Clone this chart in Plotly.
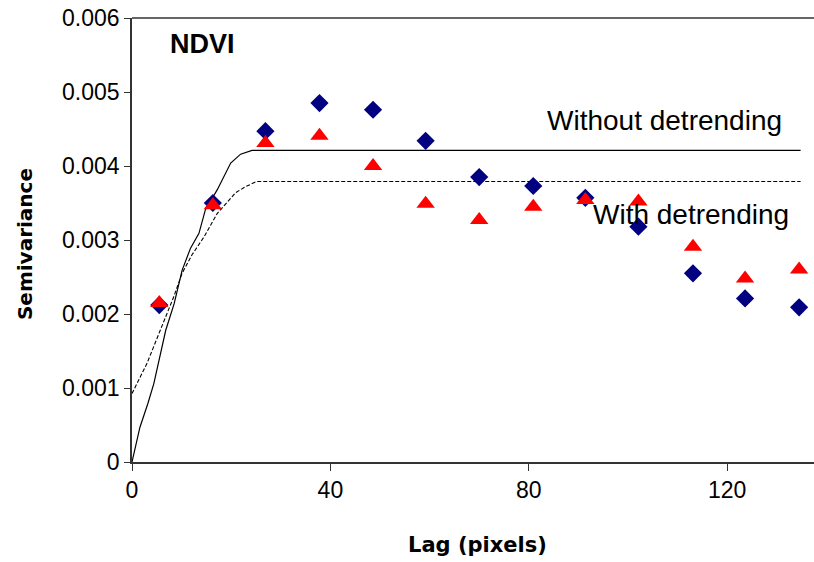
import plotly.graph_objects as go

# Experimental semivariogram of NDVI (lag in pixels)
lag = [5.5, 16.3, 26.9, 37.8, 48.6, 59.2, 70.0, 80.9, 91.4, 102.1, 113.1, 123.6, 134.5]
gamma_raw = [0.00212, 0.00350, 0.00447, 0.00485, 0.00476, 0.00434, 0.00385,
             0.00373, 0.00357, 0.00318, 0.00255, 0.00221, 0.00209]
gamma_detrended = [0.00215, 0.00347, 0.00431, 0.00441, 0.00400, 0.00349, 0.00327,
                   0.00345, 0.00354, 0.00352, 0.00291, 0.00248, 0.00260]

# Fitted model curves
model_raw_lag = [0, 1.6, 3.2, 4.4, 6.8, 8.5, 10.1, 11.8, 13.5, 14.8, 17.2, 19.9, 21.9, 24.2, 134.8]
model_raw_val = [0, 0.00047, 0.00079, 0.00106, 0.00178, 0.00214, 0.00259, 0.00289,
                 0.00309, 0.00341, 0.00368, 0.00404, 0.00416, 0.00421, 0.00421]
model_det_lag = [0, 3.0, 5.7, 8.4, 10.1, 12.1, 14.5, 17.2, 20.9, 22.9, 25.1, 134.8]
model_det_val = [0.000925, 0.00133, 0.00178, 0.00223, 0.00255, 0.00280, 0.00304,
                 0.00336, 0.00364, 0.00372, 0.00379, 0.00379]

y_ticks = [0, 0.001, 0.002, 0.003, 0.004, 0.005, 0.006]
y_tick_text = ["0", "0.001", "0.002", "0.003", "0.004", "0.005", "0.006"]
x_ticks = [0, 40, 80, 120]

FONT = "Liberation Sans, Arial, sans-serif"

fig = go.Figure()

fig.add_trace(go.Scatter(x=model_raw_lag, y=model_raw_val, mode="lines",
                         line=dict(color="black", width=1.2), showlegend=False))
fig.add_trace(go.Scatter(x=model_det_lag, y=model_det_val, mode="lines",
                         line=dict(color="black", width=1.1, dash="4px,2px"),
                         showlegend=False))
fig.add_trace(go.Scatter(x=lag, y=gamma_raw, mode="markers",
                         marker=dict(symbol="diamond", size=14, color="#000080",
                                     line=dict(width=0)),
                         showlegend=False))
fig.add_trace(go.Scatter(x=lag, y=gamma_detrended, mode="markers",
                         marker=dict(symbol="triangle-up", size=16, color="#ff0000",
                                     line=dict(width=0)),
                         showlegend=False))

axis_common = dict(showgrid=False, zeroline=False, showline=True,
                   linecolor="#333333", linewidth=1.5, ticks="outside",
                   tickcolor="#333333", tickwidth=1.2,
                   tickfont=dict(family=FONT, size=23, color="black"))

fig.update_xaxes(range=[0, 137.5], tickvals=x_ticks, ticklen=7, **axis_common)
fig.update_yaxes(range=[0, 0.006], tickvals=y_ticks, ticktext=y_tick_text,
                 ticklen=6, **axis_common)

# top frame edge
fig.add_shape(type="line", xref="paper", yref="paper", x0=0, x1=1, y0=1, y1=1,
              line=dict(color="#333333", width=1.5))

fig.add_annotation(text="<b>NDVI</b>", xref="paper", yref="paper", x=0.0528, y=0.942,
                   xanchor="left", yanchor="middle", showarrow=False,
                   font=dict(family=FONT, size=27, color="black"))
fig.add_annotation(text="Without detrending", x=83.3, y=0.00461,
                   xanchor="left", yanchor="middle", showarrow=False,
                   font=dict(family=FONT, size=28, color="black"))
fig.add_annotation(text="With detrending", x=92.6, y=0.00335,
                   xanchor="left", yanchor="middle", showarrow=False,
                   font=dict(family=FONT, size=28, color="black"))
fig.add_annotation(text="<b>Lag (pixels)</b>", xref="paper", yref="paper",
                   x=0.507, y=-0.188, xanchor="center", yanchor="middle",
                   showarrow=False, font=dict(family="DejaVu Sans, sans-serif", size=21, color="black"))
fig.add_annotation(text="<b>Semivariance</b>", xref="paper", yref="paper",
                   x=-0.1568, y=0.491, xanchor="center", yanchor="middle",
                   textangle=-90, showarrow=False,
                   font=dict(family="DejaVu Sans, sans-serif", size=20, color="black"))

fig.update_layout(width=814, height=562, margin=dict(l=132, r=0, t=18, b=100),
                  paper_bgcolor="white", plot_bgcolor="white")

fig.write_html("out.html")
